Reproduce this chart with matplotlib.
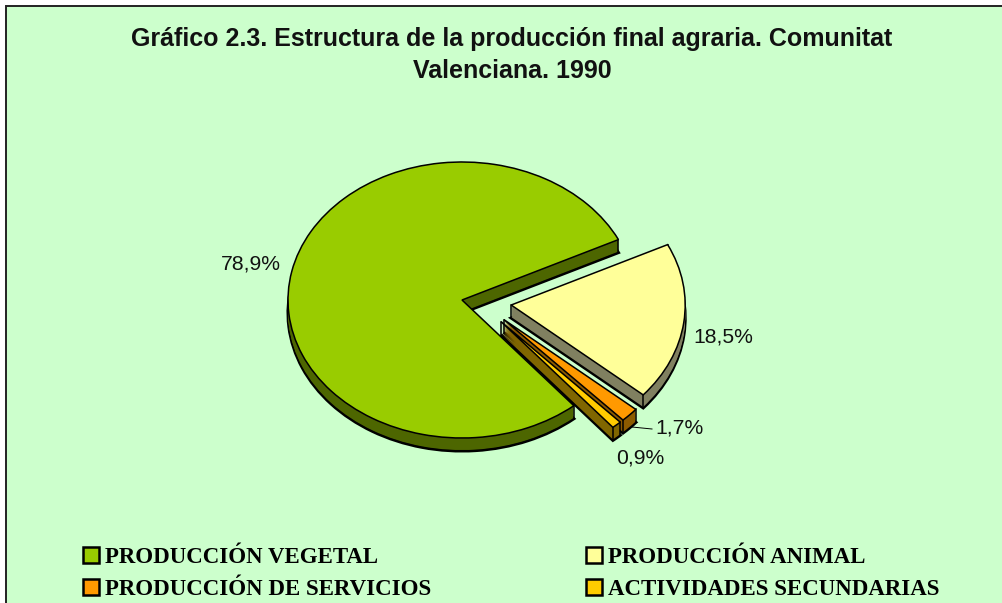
import numpy as np
import matplotlib
matplotlib.use('Agg')
import matplotlib.pyplot as plt
from matplotlib.patches import Rectangle

W, H = 1003, 603

# data
labels = ['PRODUCCIÓN VEGETAL', 'PRODUCCIÓN ANIMAL', 'PRODUCCIÓN DE SERVICIOS', 'ACTIVIDADES SECUNDARIAS']
values = [78.9, 18.5, 1.7, 0.9]
valueLabels = ['78,9%', '18,5%', '1,7%', '0,9%']
explode = [0, 0.285, 0.27, 0.27]
topColors = ['#99CC00', '#FFFF99', '#FF9900', '#FFCC00']
sideColors = ['#4D6600', '#808060', '#8C5A00', '#806600']

# pie placement in pixels
cx, cy, rx, ry = 462, 300, 174, 138
depth = 13
thinShift = (0.045, 0.045)  # the two thin slices sit a bit off the radial line


def px(x, y):
    return x / W, 1 - y / H


fig = plt.figure(figsize=(W / 100, H / 100), dpi=100, facecolor='white')
fig.patches.append(Rectangle(px(6.5, 616), (W + 20) / W, 610 / H, transform=fig.transFigure,
                             facecolor='#CCFFCC', edgecolor='#222222', linewidth=1.4, zorder=-1))

ax = fig.add_axes([(cx - rx) / W, 1 - (cy + ry) / H, 2 * rx / W, 2 * ry / H])


def draw_layer(yOff, colors, **wedgeprops):
    wedges, _ = ax.pie(values, explode=explode, colors=colors, startangle=-50, counterclock=False,
                       center=(0, yOff), wedgeprops=wedgeprops)
    for w in wedges[2:]:
        w.set_center((w.center[0] + thinShift[0], w.center[1] + thinShift[1]))
    return wedges


# extruded side: bottom layer carries the outline, the rest fill it up
dy = 1 / ry
draw_layer(-depth * dy, sideColors, edgecolor='black', linewidth=2.2)
for k in range(depth - 1, 0, -1):
    draw_layer(-k * dy, sideColors, edgecolor='none', linewidth=0)

# vertical edges of the side walls, taken from the wedges
top = draw_layer(0, topColors, edgecolor='black', linewidth=1.1)
for w in top:
    xc, yc = w.center
    xs = [xc]
    ys = [yc]
    for ang in (w.theta1, w.theta2):
        xs.append(xc + np.cos(np.radians(ang)))
        ys.append(yc + np.sin(np.radians(ang)))
    for x, y in zip(xs, ys):
        ax.plot([x, x], [y, y - depth * dy], color='black', lw=1.1, zorder=3, clip_on=False)
for w in top:
    w.set_zorder(5)

ax.set_aspect('auto')
ax.set_xlim(-1, 1)
ax.set_ylim(-1, 1)
ax.axis('off')

# value labels
labelPos = [(251, 264), (723, 337), (680, 428), (640, 458)]
for txt, (x, y) in zip(valueLabels, labelPos):
    fig.text(*px(x, y), txt, ha='center', va='center', fontsize=15.2, family='Liberation Sans', color='#111111')
fig.add_artist(plt.Line2D([632 / W, 652 / W], [1 - 427 / H, 1 - 429 / H], color='black', lw=0.7))

# title
fig.text(*px(512, 55), 'Gráfico 2.3. Estructura de la producción final agraria. Comunitat\nValenciana. 1990',
         ha='center', va='center', fontsize=18, fontweight='bold', family='Liberation Sans',
         linespacing=1.42, color='#111111')

# legend, column-wise order gives the two rows of the original
order = [0, 2, 1, 3]
handles = [Rectangle((0, 0), 1, 1, facecolor=topColors[i], edgecolor='black', linewidth=1.8) for i in order]
fig.legend(handles, [labels[i] for i in order], ncol=2, frameon=False, loc='lower left',
           bbox_to_anchor=px(83, 600), prop={'family': 'Liberation Serif', 'weight': 'bold', 'size': 16.5},
           handlelength=0.7, handleheight=0.7, handletextpad=0.26, labelspacing=0.46, columnspacing=6.77,
           borderpad=0, borderaxespad=0)

fig.savefig('out.png', dpi=100, facecolor='white')
